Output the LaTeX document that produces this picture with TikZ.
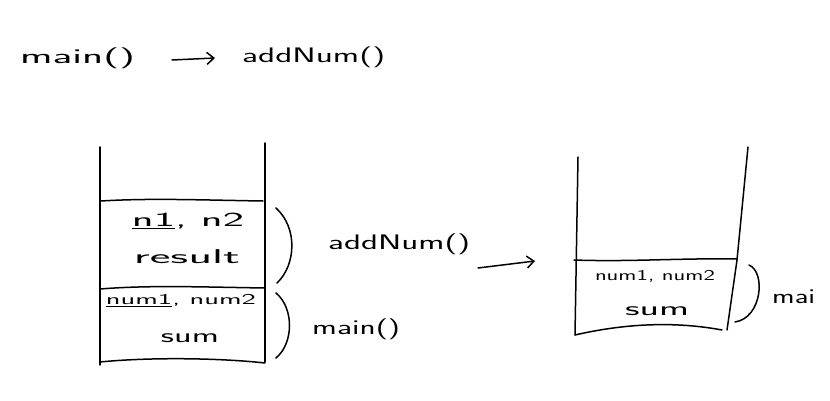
\documentclass[tikz,border=0pt]{standalone}
\usetikzlibrary{arrows.meta}
\usepackage{graphicx}
\newcommand{\fitw}[2]{\resizebox{#1}{\height}{#2}}
\begin{document}
\begin{tikzpicture}[x=1pt,y=-1pt,
  ink/.style={line width=1.5pt, line cap=round, line join=round, black},
  arr/.style={ink, -{Straight Barb[length=7pt,width=12pt,line width=1.5pt]}},
  lbl/.style={font=\sffamily\fontsize{21}{23}\selectfont, inner sep=0pt},
  cell/.style={font=\sffamily\fontsize{20}{22}\selectfont, inner sep=0pt},
  small/.style={font=\sffamily\fontsize{15}{17}\selectfont, inner sep=0pt}]
\useasboundingbox (0,0) rectangle (830,401);
% title
\node[lbl, anchor=west] (tmain) at (20,58) {\fitw{115pt}{main()}};
\node[lbl, anchor=west] (tadd) at (242,57) {\fitw{143pt}{addNum()}};
\draw[arr] (172,60) -- (215,58);
% left stack
\draw[ink] (100,147) -- (100,365);
\draw[ink] (265,143) -- (265,362);
\draw[ink] (101,201) .. controls (150,198) and (200,200) .. (263,201);
\draw[ink] (100,289) .. controls (150,285) and (200,287) .. (265,288);
\draw[ink] (100,362) .. controls (150,357) and (220,358) .. (265,363);
\node[cell] (n12) at (188,221) {\fitw{112pt}{\underline{n1}, n2}};
\node[cell] (res) at (187,257) {\fitw{106pt}{result}};
\node[small] (num12) at (181,301) {\fitw{150pt}{\underline{num1}, num2}};
\node[cell] (sumL) at (190,338) {\fitw{58pt}{sum}};
% braces
\draw[ink] (276,208) .. controls (298,228) and (296,265) .. (277,283);
\draw[ink] (276,293) .. controls (294,308) and (294,343) .. (276,358);
\node[lbl, anchor=west] (laddn) at (328,244) {\fitw{142pt}{addNum()}};
\node[lbl, anchor=west] (lmain) at (312,329) {\fitw{88pt}{main()}};
% arrow between stacks
\coordinate (a1) at (478,268);
\coordinate (a2) at (535,261);
\draw[arr] (a1) -- (a2);
% right stack
\draw[ink] (578,157) -- (575,335);
\draw[ink] (748,147) -- (737,260) -- (727,330);
\draw[ink] (574,260) .. controls (630,262) and (680,258) .. (737,259);
\draw[ink] (575,335) .. controls (640,320) and (690,324) .. (722,330);
\node[small] (numR) at (655,276) {\fitw{120pt}{num1, num2}};
\node[cell] (sumR) at (657,311) {\fitw{64pt}{sum}};
\draw[ink] (749,265) .. controls (766,272) and (762,318) .. (735,322);
\node[lbl, anchor=west] (lmai) at (772,297) {\fitw{43pt}{mai}};
\end{tikzpicture}
\end{document}
